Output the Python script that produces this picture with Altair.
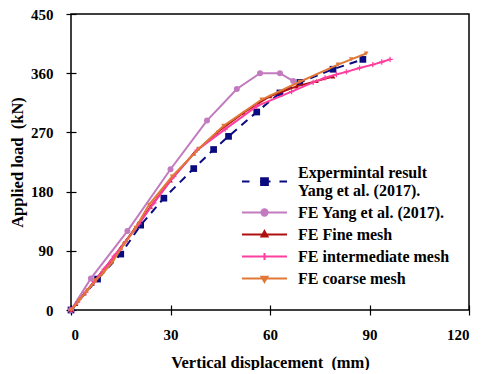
import altair as alt
import pandas as pd

# ---- data ----
exp_x = [0, 8, 15, 21, 28, 37, 43, 47.5, 56, 63, 69, 79, 88]
exp_y = [0, 47, 85, 129, 170, 215, 244, 264, 301, 330, 346, 366, 381]

yang_x = [0, 6, 17, 30, 41, 50, 57, 63, 67]
yang_y = [0, 48, 120, 214, 288, 336, 360, 360, 348]

fine_x = [0, 1.5, 4, 6.5, 9, 12, 15, 19, 24, 30, 37, 44, 52, 60, 68, 74, 79]
fine_y = [0, 9, 25, 40, 56, 75, 95, 122, 157, 197, 238, 270, 300, 325, 340, 348, 355]

int_x = [0, 2, 4.5, 7, 10, 13, 16.5, 20.5, 25, 31, 38, 46.5, 56, 66.5, 73, 76.6, 80, 83, 87, 91, 93.7, 96.2]
int_y = [0, 12, 27, 43, 62, 82, 104, 131, 163, 203, 243, 275, 310, 332, 346, 353, 358, 362, 368, 373, 377, 381]

coarse_x = [0, 2.5, 5, 7.5, 10, 12.5, 16, 19.5, 23.5, 30.5, 38.5, 46, 57.5, 69, 80.5, 84.5, 89]
coarse_y = [0, 15, 30, 45, 58, 73, 100, 125, 160, 203, 245, 280, 320, 347, 373, 381, 390]

series_names = [
    "Expermintal result|Yang et al. (2017).",
    "FE Yang et al. (2017).",
    "FE Fine mesh",
    "FE intermediate mesh",
    "FE coarse mesh",
]
x_ticks = [0, 30, 60, 90, 120]
y_ticks = [0, 90, 180, 270, 360, 450]

colors = ["#0b0b80", "#c27bbf", "#b01010", "#ff3d9e", "#e07838"]
FONT = "Liberation Serif, serif"

xs = alt.Scale(domain=[0, 120], nice=False, zero=False)
ys = alt.Scale(domain=[0, 450], nice=False, zero=False)
xax = alt.Axis(values=x_ticks, title="Vertical displacement\u2002(mm)")
yax = alt.Axis(values=y_ticks, title="Applied load\u2002(kN)")

plus_path = "M-1,0H1M0,-1V1"

specs = [
    (exp_x, exp_y, colors[0], "square", 45, True, [8, 6]),
    (yang_x, yang_y, colors[1], "circle", 36, True, None),
    (fine_x, fine_y, colors[2], "triangle-up", 22, True, None),
    (int_x, int_y, colors[3], plus_path, 28, False, None),
    (coarse_x, coarse_y, colors[4], "triangle-down", 22, True, None),
]

layers = []
for i, (sx, sy, col, shp, sz, filled, dash) in enumerate(specs):
    df = pd.DataFrame({"x": sx, "y": sy})
    lk = dict(color=col, strokeWidth=2)
    if dash:
        lk["strokeDash"] = dash
    line = alt.Chart(df).mark_line(**lk).encode(
        x=alt.X("x:Q", scale=xs, axis=xax),
        y=alt.Y("y:Q", scale=ys, axis=yax),
    )
    pk = dict(shape=shp, size=sz, filled=filled, opacity=1, color=col)
    if not filled:
        pk["strokeWidth"] = 1.2
    pts = alt.Chart(df).mark_point(**pk).encode(x="x:Q", y="y:Q")
    layers += [line, pts]

# legend symbols: line + marker (first one shifted to sit between its two label lines)
lg_paths = [
    "M-3,1.2H-2M-0.6,1.2H0.8M2,1.2H3M-0.45,0.75H0.45V1.65H-0.45Z",
    "M-3,0H3M0.42,0A0.42,0.42 0 1,1 -0.42,0A0.42,0.42 0 1,1 0.42,0Z",
    "M-3,0H3M0,-0.45L0.4,0.25H-0.4Z",
    "M-3,0H3M0,-0.47V0.47",
    "M-3,0H3M0,0.45L0.4,-0.25H-0.4Z",
]
lg_df = pd.DataFrame({"lg": series_names, "x": [-200] * 5, "y": [-200] * 5})
legend = alt.Legend(
    title=None, orient="none", legendX=185, legendY=150,
    labelExpr="split(datum.label, '|')", symbolSize=225,
    symbolStrokeWidth=2, labelOffset=25, rowPadding=5,
    labelFont=FONT, labelFontSize=16, labelFontWeight="bold",
    labelColor="black", labelLimit=0, padding=0,
)
lg_layer = alt.Chart(lg_df).mark_point(filled=True, clip=True, opacity=1, size=225, strokeWidth=2).encode(
    x="x:Q", y="y:Q",
    fill=alt.Fill("lg:N", scale=alt.Scale(domain=series_names, range=colors), legend=legend, sort=series_names),
    stroke=alt.Stroke("lg:N", scale=alt.Scale(domain=series_names, range=colors), legend=legend, sort=series_names),
    shape=alt.Shape("lg:N", scale=alt.Scale(domain=series_names, range=lg_paths), legend=legend, sort=series_names),
)

chart = alt.layer(lg_layer, *layers).properties(
    width=398, height=296,
    autosize=alt.AutoSizeParams(type="none"),
    padding={"left": 63, "top": 6, "right": 4, "bottom": 60},
).configure_view(
    stroke="black", strokeWidth=1.5
).configure_axis(
    domain=False, grid=False, offset=-5, tickSize=10, tickColor="black", tickWidth=1.2,
    labelFont=FONT, labelFontSize=15, labelFontWeight="bold", labelColor="black",
    titleFont=FONT, titleFontSize=16.5, titleFontWeight="bold", titleColor="black",
).configure_axisX(
    labelPadding=12, titlePadding=12
).configure_axisY(
    labelPadding=13, titlePadding=5
)

chart.save("out.html", embed_options={"renderer": "svg", "actions": False})
